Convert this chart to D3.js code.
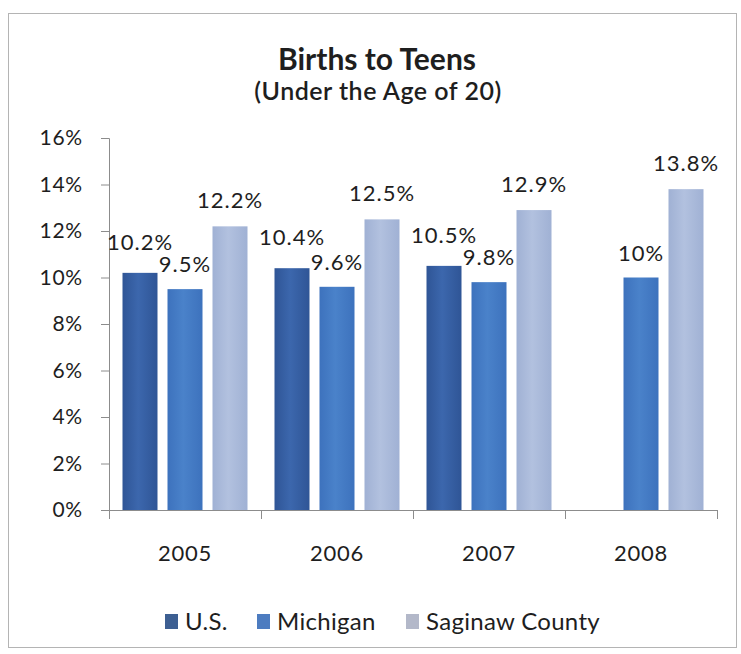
<!DOCTYPE html>
<html>
<head>
<meta charset="utf-8">
<title>Births to Teens</title>
<script src="https://cdnjs.cloudflare.com/ajax/libs/d3/7.8.5/d3.min.js"></script>
<style>
	body { margin: 0; background: #fff; }
	text { font-family: Lato, "Open Sans", sans-serif; fill: #1e1e1e; }
</style>
</head>
<body>
<div id="chart-area"></div>
<script>
// chart data
const years = ["2005", "2006", "2007", "2008"]
const seriesNames = ["U.S.", "Michigan", "Saginaw County"]
const usValues = [10.2, 10.4, 10.5, null]
const michiganValues = [9.5, 9.6, 9.8, 10.0]
const saginawValues = [12.2, 12.5, 12.9, 13.8]
const yTicks = [0, 2, 4, 6, 8, 10, 12, 14, 16]

const seriesValues = [usValues, michiganValues, saginawValues]

// look
const W = 741
const H = 654
const PLOT = {LEFT: 109, RIGHT: 717, TOP: 138, BOTTOM: 510}
const barFill = [["#2f5596", "#3c67ad"], ["#3d72bd", "#4a82ca"], ["#a0b1d4", "#b2c1df"]]
const legendFill = ["#3d5f92", "#4d7cc0", "#b3b8c9"]
const labelLift = [31, 25, 26]

const svg = d3.select("#chart-area").append("svg")
	.attr("width", W)
	.attr("height", H)

// gradients for the bars
const defs = svg.append("defs")
barFill.forEach((c, i) => {
	const g = defs.append("linearGradient")
		.attr("id", "bar" + i)
		.attr("x1", "0").attr("x2", "1")
		.attr("y1", "0").attr("y2", "0")
	g.append("stop").attr("offset", "0").attr("stop-color", c[0])
	g.append("stop").attr("offset", "0.45").attr("stop-color", c[1])
	g.append("stop").attr("offset", "1").attr("stop-color", c[0])
})

// outer frame
svg.append("rect")
	.attr("x", 8.5)
	.attr("y", 13.5)
	.attr("width", 728)
	.attr("height", 634)
	.attr("fill", "#fff")
	.attr("stroke", "#b4b4b4")

// title
svg.append("text")
	.attr("x", 377)
	.attr("y", 70)
	.attr("text-anchor", "middle")
	.attr("font-size", "30px")
	.attr("font-weight", "bold")
	.text("Births to Teens")

svg.append("text")
	.attr("x", 378)
	.attr("y", 100)
	.attr("text-anchor", "middle")
	.attr("font-size", "25px")
	.attr("font-weight", "600")
	.attr("letter-spacing", "0.5px")
	.text("(Under the Age of 20)")

// scales
const x0 = d3.scaleBand()
	.domain(years)
	.range([PLOT.LEFT, PLOT.RIGHT])

const x1 = d3.scaleBand()
	.domain(seriesNames)
	.range([0, 125])
	.paddingInner(10 / 45)

const y = d3.scaleLinear()
	.domain([0, 16])
	.range([PLOT.BOTTOM, PLOT.TOP])

// Y axis
const yAxis = svg.append("g")
	.attr("transform", `translate(${PLOT.LEFT}, 0)`)
	.call(d3.axisLeft(y)
		.tickValues(yTicks)
		.tickSize(8)
		.tickPadding(18)
		.tickFormat(d => d + "%"))
yAxis.select(".domain").attr("stroke", "#8c8c8c")
yAxis.selectAll(".tick line").attr("stroke", "#8c8c8c")
yAxis.selectAll(".tick text")
	.attr("font-size", "21px")
	.attr("font-family", "Lato, sans-serif")
	.attr("letter-spacing", "0.8px")
	.attr("fill", "#1e1e1e")

// X axis line and category boundary ticks
const xAxis = svg.append("g")
	.attr("transform", `translate(0, ${PLOT.BOTTOM})`)
	.call(d3.axisBottom(x0).tickSize(0).tickFormat(""))
xAxis.select(".domain").attr("stroke", "#8c8c8c")

const bounds = years.map(d => x0(d)).concat([x0.range()[1]])
svg.selectAll(".cat-tick")
	.data(bounds)
	.enter().append("line")
	.attr("class", "cat-tick")
	.attr("x1", d => Math.round(d) + 0.5)
	.attr("x2", d => Math.round(d) + 0.5)
	.attr("y1", PLOT.BOTTOM)
	.attr("y2", PLOT.BOTTOM + 9)
	.attr("stroke", "#8c8c8c")

svg.selectAll(".year-label")
	.data(years)
	.enter().append("text")
	.attr("class", "year-label")
	.attr("x", d => x0(d) + x0.bandwidth() / 2)
	.attr("y", 561)
	.attr("text-anchor", "middle")
	.attr("font-size", "22px")
	.attr("letter-spacing", "0.8px")
	.text(d => d)

// bars
const groupOffset = (x0.bandwidth() - 125) / 2
const barData = []
seriesNames.forEach((s, i) => {
	years.forEach((yr, j) => {
		const v = seriesValues[i][j]
		if (v != null) barData.push({series: s, si: i, year: yr, value: v})
	})
})

svg.selectAll(".bar")
	.data(barData)
	.enter().append("rect")
	.attr("class", "bar")
	.attr("x", d => x0(d.year) + groupOffset + x1(d.series))
	.attr("y", d => y(d.value))
	.attr("width", x1.bandwidth())
	.attr("height", d => y(0) - y(d.value))
	.attr("fill", d => `url(#bar${d.si})`)

svg.selectAll(".bar-label")
	.data(barData)
	.enter().append("text")
	.attr("class", "bar-label")
	.attr("x", d => x0(d.year) + groupOffset + x1(d.series) + x1.bandwidth() / 2)
	.attr("y", d => y(d.value) - labelLift[d.si] + 8)
	.attr("text-anchor", "middle")
	.attr("font-size", "22px")
	.attr("letter-spacing", "1px")
	.text(d => d.value + "%")

// legend
const legendX = [165, 257, 406]
const legend = svg.selectAll(".legend")
	.data(seriesNames)
	.enter().append("g")
	.attr("class", "legend")
	.attr("transform", (d, i) => `translate(${legendX[i]}, 622)`)

legend.append("rect")
	.attr("x", 0)
	.attr("y", -8)
	.attr("width", 13)
	.attr("height", 15)
	.attr("fill", (d, i) => legendFill[i])

legend.append("text")
	.attr("x", 20)
	.attr("y", 8)
	.attr("font-size", "24px")
	.attr("letter-spacing", "0.3px")
	.text(d => d)
</script>
</body>
</html>
